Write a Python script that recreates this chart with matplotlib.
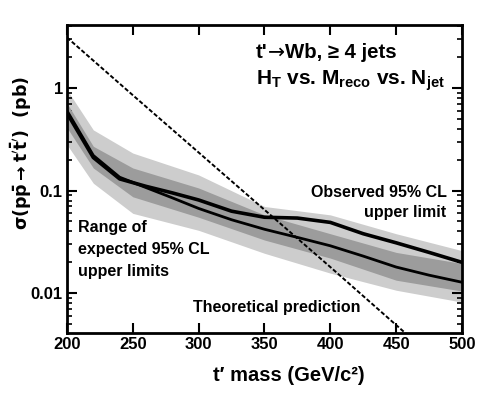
import numpy as np
import matplotlib
matplotlib.use("Agg")
import matplotlib.pyplot as plt
from matplotlib.ticker import LogLocator, NullFormatter, FixedLocator

plt.rcParams['font.family'] = ['Liberation Sans', 'DejaVu Sans']
plt.rcParams['font.weight'] = 'bold'
plt.rcParams['mathtext.fontset'] = 'custom'
plt.rcParams['mathtext.rm'] = 'Liberation Sans:bold'
plt.rcParams['mathtext.it'] = 'Liberation Sans:bold'
plt.rcParams['mathtext.bf'] = 'Liberation Sans:bold'
plt.rcParams['mathtext.sf'] = 'Liberation Sans:bold'

# ---- data ----
mass = [200, 220, 240, 260, 280, 300, 325, 350, 375, 400, 425, 450, 475, 500]
observed = [0.57, 0.21, 0.13, 0.11, 0.095, 0.081, 0.063, 0.055, 0.054, 0.049, 0.038, 0.031, 0.025, 0.020]
expected = [0.60, 0.22, 0.135, 0.107, 0.085, 0.067, 0.052, 0.042, 0.035, 0.029, 0.023, 0.018, 0.015, 0.0128]

band_mass = [200, 220, 250, 300, 350, 400, 450, 500]
light_hi = [0.96, 0.39, 0.232, 0.142, 0.070, 0.058, 0.038, 0.026]
dark_hi = [0.71, 0.27, 0.166, 0.106, 0.058, 0.038, 0.025, 0.0195]
dark_lo = [0.41, 0.166, 0.087, 0.055, 0.033, 0.022, 0.0134, 0.0105]
light_lo = [0.28, 0.118, 0.060, 0.041, 0.0245, 0.0157, 0.0107, 0.0082]

theory_mass = [200, 250, 300, 350, 400, 450, 500]
theory = [3.1, 0.85, 0.235, 0.065, 0.018, 0.0049, 0.00135]

xticks = [200, 250, 300, 350, 400, 450, 500]
yticks = [0.01, 0.1, 1]
ytick_labels = ['0.01', '0.1', '1']

fig = plt.figure(figsize=(4.98, 3.99), dpi=100)
ax = fig.add_axes([0.1345, 0.1654, 0.7932, 0.7719])

ax.fill_between(band_mass, light_lo, light_hi, color='#cdcdcd', lw=0, zorder=1)
ax.fill_between(band_mass, dark_lo, dark_hi, color='#9c9c9c', lw=0, zorder=2)
ax.plot(mass, expected, color='black', lw=2.0, zorder=3)
ax.plot(mass, observed, color='black', lw=2.6, zorder=4)
ax.plot(theory_mass, theory, color='black', lw=1.4, dashes=(2.2, 1.1), zorder=5)

ax.set_yscale('log')
ax.set_xlim(200, 500)
ax.set_ylim(0.0041, 4.1)
ax.xaxis.set_major_locator(FixedLocator(xticks))
ax.set_yticks(yticks)
ax.set_yticklabels(ytick_labels)
ax.yaxis.set_minor_locator(LogLocator(base=10, subs=np.arange(2, 10)))
ax.yaxis.set_minor_formatter(NullFormatter())

for s in ax.spines.values():
    s.set_linewidth(2.0)
ax.tick_params(which='major', direction='in', length=7, width=1.5, top=True, right=True,
               labelsize=12, pad=3)
ax.tick_params(which='minor', direction='in', length=3.5, width=1.2, right=True)
for lab in ax.get_xticklabels() + ax.get_yticklabels():
    lab.set_fontweight('bold')

ax.set_xlabel("t\u2032 mass (GeV/c\u00b2)", fontsize=14.5, fontweight='bold')
ax.xaxis.set_label_coords(0.562, -0.108)
ax.set_ylabel(r"$\mathbf{\sigma(p\bar{p}\rightarrow t'\bar{t}')\ \ (pb)}$", fontsize=12.5,
              math_fontfamily='dejavusans')
ax.yaxis.set_label_coords(-0.083, 0.585)

# title line 1 built from pieces so the arrow can be a thin one
t1 = ax.text(0.478, 0.893, "t'", transform=ax.transAxes, fontsize=14.7,
             fontweight='bold', ha='left', va='baseline')
t2 = ax.annotate("\u2192", xy=(1, 0), xycoords=t1, fontsize=14.7,
                 family='DejaVu Sans', fontweight='normal', ha='left', va='bottom')
t3 = ax.annotate("Wb, \u2265 4 jets", xy=(1, 0), xycoords=t2, fontsize=14.7,
                 fontweight='bold', ha='left', va='bottom')
ax.text(0.478, 0.805, r"H$_\mathrm{T}$ vs. M$_\mathrm{reco}$ vs. N$_\mathrm{jet}$",
        transform=ax.transAxes, fontsize=15, fontweight='bold', ha='left', va='baseline')

fs = 11.5
ax.text(0.962, 0.442, "Observed 95% CL", transform=ax.transAxes, fontsize=fs,
        fontweight='bold', ha='right', va='baseline')
ax.text(0.959, 0.377, "upper limit", transform=ax.transAxes, fontsize=fs,
        fontweight='bold', ha='right', va='baseline')

ax.text(0.028, 0.328, "Range of", transform=ax.transAxes, fontsize=fs,
        fontweight='bold', ha='left', va='baseline')
ax.text(0.028, 0.257, "expected 95% CL", transform=ax.transAxes, fontsize=fs,
        fontweight='bold', ha='left', va='baseline')
ax.text(0.028, 0.185, "upper limits", transform=ax.transAxes, fontsize=fs,
        fontweight='bold', ha='left', va='baseline')

ax.text(0.319, 0.068, "Theoretical prediction", transform=ax.transAxes, fontsize=fs,
        fontweight='bold', ha='left', va='baseline')

fig.savefig("out.png", dpi=100)
